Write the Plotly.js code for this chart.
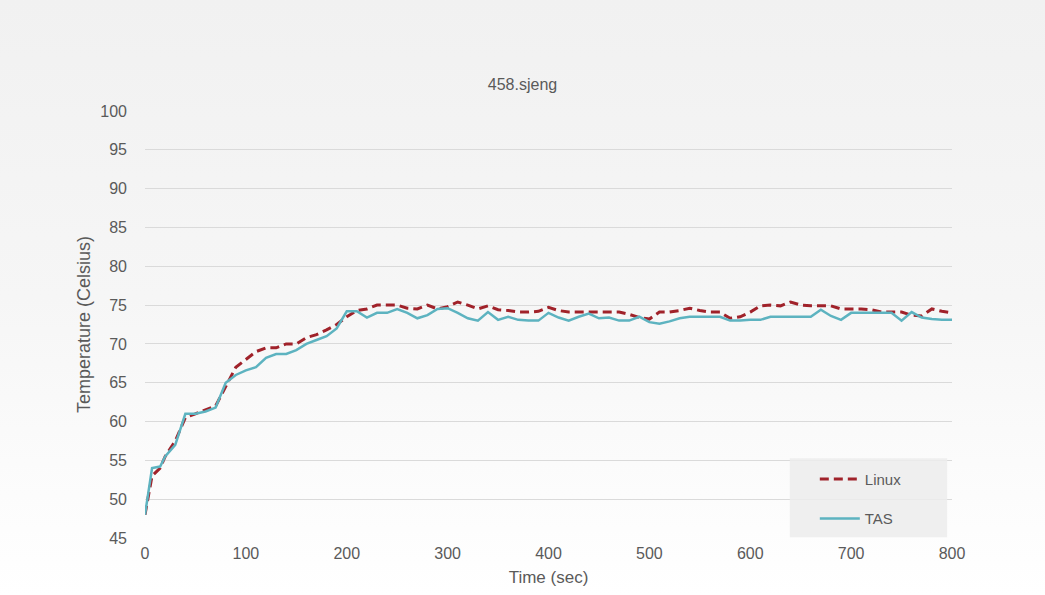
<!DOCTYPE html>
<html>
<head>
<meta charset="utf-8">
<script src="https://cdn.plot.ly/plotly-3.0.1.min.js"></script>
<style>
  html, body { margin: 0; padding: 0; background: #ffffff; }
  #chart { width: 1045px; height: 595px; background: linear-gradient(to bottom, #f1f1f1 0%, #f6f6f6 50%, #ffffff 100%); }
</style>
</head>
<body>
<div id="chart"></div>
<script>
// Time (sec)
const timeSec = [0, 7, 15, 20, 30, 40, 50, 60, 70, 80, 90, 100, 110, 120, 130, 140, 150, 160, 170, 180, 190, 200,
  210, 220, 230, 240, 250, 260, 270, 280, 290, 300, 310, 320, 330, 340, 350, 360, 370, 380, 390, 400,
  410, 420, 430, 440, 450, 460, 470, 480, 490, 500, 510, 520, 530, 540, 550, 560, 570, 580, 590, 600,
  610, 620, 630, 640, 650, 660, 670, 680, 690, 700, 710, 720, 730, 740, 750, 760, 770, 780, 790, 800];

// Linux temperatures (Celsius)
const linuxTemp = [48, 53, 54, 55.5, 57.5, 60.5, 61, 61.5, 62, 64.5, 67, 68, 69, 69.5, 69.5, 70, 70, 70.8, 71.2, 71.8, 72.5, 73.5,
  74.3, 74.5, 75, 75, 75, 74.6, 74.5, 75, 74.5, 74.8, 75.4, 75, 74.5, 74.9, 74.4, 74.3, 74.1, 74.1, 74.2, 74.7,
  74.3, 74.1, 74.1, 74.1, 74.1, 74.1, 74.1, 73.8, 73.4, 73.2, 74.1, 74.1, 74.3, 74.6, 74.3, 74.1, 74.1, 73.3, 73.5, 74.1,
  74.9, 75, 74.9, 75.4, 75, 74.9, 74.9, 74.9, 74.5, 74.5, 74.5, 74.4, 74.1, 74.1, 74.1, 73.7, 73.6, 74.5, 74.2, 74];

// TAS temperatures (Celsius)
const tasTemp = [48, 54, 54.2, 55.5, 57, 61, 61, 61.3, 61.8, 65, 66, 66.6, 67, 68.2, 68.7, 68.7, 69.2, 70, 70.5, 71, 72, 74.2,
  74.2, 73.4, 74, 74, 74.5, 74, 73.3, 73.7, 74.5, 74.6, 74, 73.3, 73, 74.1, 73.1, 73.5, 73.1, 73, 73, 74,
  73.4, 73, 73.5, 73.9, 73.3, 73.4, 73, 73, 73.5, 72.8, 72.6, 72.9, 73.3, 73.5, 73.5, 73.5, 73.5, 73, 73, 73.1,
  73.1, 73.5, 73.5, 73.5, 73.5, 73.5, 74.4, 73.6, 73.1, 74, 74, 74, 74, 74, 73, 74.1, 73.4, 73.2, 73.1, 73.1];

const seriesNames = ['Linux', 'TAS'];
const chartTitle = '458.sjeng';
const xTitle = 'Time (sec)';
const yTitle = 'Temperature (Celsius)';

const fontFam = '"Liberation Sans", Arial, sans-serif';
const grey = '#5a5a5a';

const traces = [
  {
    x: timeSec, y: linuxTemp, name: seriesNames[0], type: 'scatter', mode: 'lines',
    line: { color: '#a0222a', width: 3, dash: '9px,5px' }, legendgroup: 'a'
  },
  {
    x: timeSec, y: tasTemp, name: seriesNames[1], type: 'scatter', mode: 'lines',
    line: { color: '#5db3c0', width: 2.5 }, legendgroup: 'b'
  }
];

const layout = {
  width: 1045, height: 595,
  paper_bgcolor: 'rgba(0,0,0,0)',
  plot_bgcolor: 'rgba(0,0,0,0)',
  margin: { l: 145, r: 93, t: 111, b: 57 },
  font: { family: fontFam, color: grey, size: 15 },
  title: { text: chartTitle, x: 0.5, xanchor: 'center', y: 0.858, yanchor: 'middle', font: { family: fontFam, size: 16, color: grey } },
  xaxis: {
    range: [0, 800], dtick: 100, tick0: 0, showgrid: false, zeroline: false, showline: false,
    ticks: '', ticklabelstandoff: 4, tickfont: { size: 16, color: grey },
    title: { text: xTitle, font: { size: 17, color: grey }, standoff: 10 }
  },
  yaxis: {
    range: [45, 100], dtick: 5, tick0: 45, showgrid: true, gridcolor: '#dadada', gridwidth: 1,
    zeroline: false, showline: false, ticks: '', ticklabelstandoff: 17, tickfont: { size: 16, color: grey },
    title: { text: yTitle, font: { size: 18, color: grey }, standoff: 4 }
  },
  shapes: [
    { type: 'rect', xref: 'paper', yref: 'paper', x0: 0.799, x1: 0.994, y0: 0.002, y1: 0.187,
      fillcolor: 'rgba(236,236,236,0.85)', line: { width: 0 }, layer: 'above' }
  ],
  showlegend: true,
  legend: {
    x: 0.83, y: 0.176, xanchor: 'left', yanchor: 'top',
    bgcolor: 'rgba(0,0,0,0)', borderwidth: 0,
    font: { size: 15, color: grey },
    traceorder: 'grouped', tracegroupgap: 17,
    itemwidth: 40
  }
};

Plotly.newPlot('chart', traces, layout, { displayModeBar: false, staticPlot: true });
</script>
</body>
</html>
